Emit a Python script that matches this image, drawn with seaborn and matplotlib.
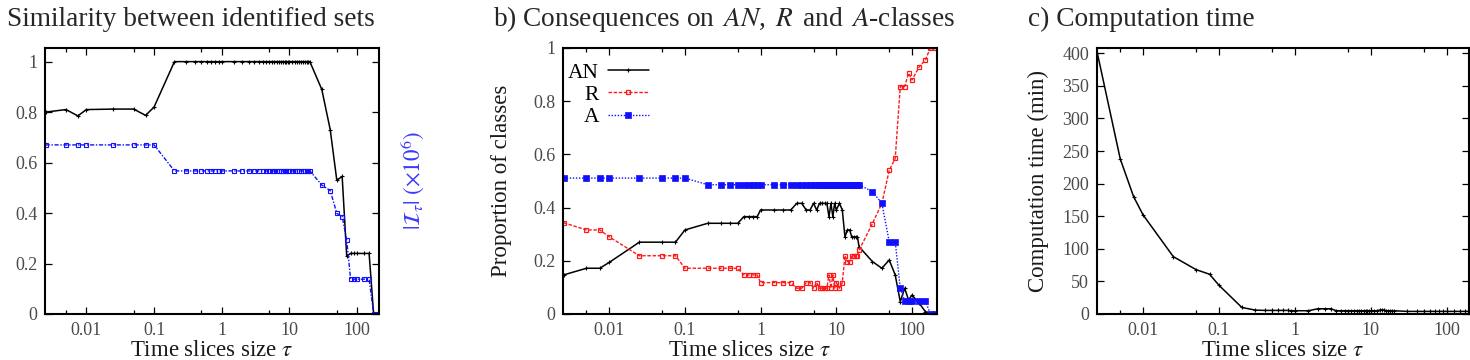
import matplotlib
matplotlib.use("Agg")
import matplotlib.pyplot as plt
import seaborn as sns
from matplotlib.ticker import LogLocator, NullFormatter

# ---------------- data ----------------
tau = [0.0025, 0.005, 0.0075, 0.01, 0.025, 0.05, 0.075, 0.1,
       0.2, 0.3, 0.4, 0.5, 0.6, 0.7, 0.8, 0.9,
       1, 1.5, 2, 2.5, 3, 3.5, 4, 4.5, 5, 5.5, 6, 6.5, 7, 7.5, 8, 8.5, 9, 9.5, 10,
       11, 12, 13, 14, 15, 16, 17, 18, 19, 20,
       30, 40, 50, 60, 70, 80, 90, 100, 125, 150, 175, 200]

similarity = [0.80, 0.81, 0.785, 0.81, 0.812, 0.812, 0.787, 0.82,
              1.0, 1.0, 1.0, 1.0, 1.0, 1.0, 1.0, 1.0,
              1.0, 1.0, 1.0, 1.0, 1.0, 1.0, 1.0, 1.0, 1.0, 1.0, 1.0, 1.0, 1.0, 1.0, 1.0, 1.0, 1.0, 1.0, 1.0,
              1.0, 1.0, 1.0, 1.0, 1.0, 1.0, 1.0, 1.0, 1.0, 1.0,
              0.89, 0.73, 0.53, 0.545, 0.23, 0.24, 0.24, 0.24, 0.24, 0.24, 0.0, 0.0]

identified = [0.67, 0.67, 0.67, 0.67, 0.67, 0.67, 0.67, 0.67,
              0.567, 0.567, 0.567, 0.567, 0.567, 0.567, 0.567, 0.567,
              0.567, 0.567, 0.567, 0.567, 0.567, 0.567, 0.567, 0.567, 0.567, 0.567, 0.567, 0.567, 0.567, 0.567,
              0.567, 0.567, 0.567, 0.567, 0.567,
              0.567, 0.567, 0.567, 0.567, 0.567, 0.567, 0.567, 0.567, 0.567, 0.567,
              0.511, 0.489, 0.399, 0.386, 0.293, 0.138, 0.138, 0.138, 0.138, 0.138, 0.0, 0.0]

an_prop = [0.147, 0.172, 0.172, 0.194, 0.27, 0.27, 0.27, 0.316,
           0.341, 0.341, 0.341, 0.341, 0.366, 0.366, 0.366, 0.366,
           0.391, 0.391, 0.391, 0.391, 0.416, 0.416, 0.391, 0.391, 0.416, 0.391, 0.416, 0.416, 0.416, 0.416,
           0.366, 0.416, 0.366, 0.416, 0.391,
           0.416, 0.391, 0.29, 0.316, 0.316, 0.29, 0.29, 0.29, 0.29, 0.253,
           0.197, 0.172, 0.203, 0.147, 0.046, 0.097, 0.053, 0.071, 0.04, 0.009, 0.0, 0.0]

r_prop = [0.343, 0.316, 0.316, 0.29, 0.219, 0.219, 0.219, 0.172,
          0.172, 0.172, 0.172, 0.172, 0.147, 0.147, 0.147, 0.147,
          0.118, 0.118, 0.118, 0.118, 0.097, 0.097, 0.118, 0.118, 0.097, 0.118, 0.097, 0.097, 0.097, 0.097,
          0.147, 0.097, 0.147, 0.097, 0.118,
          0.097, 0.118, 0.219, 0.197, 0.197, 0.219, 0.219, 0.219, 0.219, 0.24,
          0.34, 0.416, 0.54, 0.585, 0.855, 0.855, 0.905, 0.88, 0.93, 0.955, 1.0, 1.0]

a_prop = [0.511, 0.511, 0.511, 0.511, 0.511, 0.511, 0.511, 0.511,
          0.486, 0.486, 0.486, 0.486, 0.486, 0.486, 0.486, 0.486,
          0.486, 0.486, 0.486, 0.486, 0.486, 0.486, 0.486, 0.486, 0.486, 0.486, 0.486, 0.486, 0.486, 0.486,
          0.486, 0.486, 0.486, 0.486, 0.486,
          0.486, 0.486, 0.486, 0.486, 0.486, 0.486, 0.486, 0.486, 0.486, 0.486,
          0.46, 0.416, 0.272, 0.272, 0.097, 0.05, 0.05, 0.05, 0.05, 0.05, 0.0, 0.0]

comp_time = [400, 238, 180, 152, 88, 68, 61, 44,
             10, 6, 5.5, 5.5, 5.5, 5.5, 5.5, 5,
             5, 5, 8, 8, 8, 5, 5, 5, 5, 5, 5, 5, 5, 5, 5, 5, 5, 5, 5,
             5, 5, 6, 6.5, 6, 5, 5, 5, 5, 5,
             4, 4, 4, 4, 4, 4, 4, 4, 4, 4, 4, 4]

xtick_vals = [0.01, 0.1, 1, 10, 100]
xtick_labels = ["0.01", "0.1", "1", "10", "100"]
prop_ticks = [0, 0.2, 0.4, 0.6, 0.8, 1.0]
prop_tick_labels = ["0", "0.2", "0.4", "0.6", "0.8", "1"]
time_ticks = [0, 50, 100, 150, 200, 250, 300, 350, 400]

# ---------------- style ----------------
sns.set_theme(style="ticks")
plt.rcParams.update({
    "font.family": ["Liberation Serif", "DejaVu Serif"],
    "mathtext.fontset": "stix",
    "axes.edgecolor": "black",
    "axes.facecolor": "white",
    "figure.facecolor": "white",
})

W, H = 1470.0, 360.0
fig = plt.figure(figsize=(14.7, 3.6), dpi=100)


def rect(x0, x1, y0=48.0, y1=314.0):
    return [x0 / W, 1 - y1 / H, (x1 - x0) / W, (y1 - y0) / H]


axA = fig.add_axes(rect(45, 379))
axB = fig.add_axes(rect(563, 936.7))
axC = fig.add_axes(rect(1096.7, 1469))

TICKCOL = "#4a4a4a"
LABCOL = "#1a1a1a"
LABSIZE = 16.5


def style(ax, xmax):
    ax.set_xscale("log")
    ax.set_xlim(0.00245, xmax)
    ax.set_xticks(xtick_vals)
    ax.set_xticklabels(xtick_labels)
    ax.xaxis.set_minor_locator(LogLocator(base=10, subs=[5.0]))
    ax.xaxis.set_minor_formatter(NullFormatter())
    ax.tick_params(which="both", direction="in", top=True, right=True,
                   labelsize=13, labelcolor=TICKCOL, color="black", width=0.9)
    ax.tick_params(which="major", length=5, pad=5.5)
    ax.tick_params(which="minor", length=3)
    for s in ax.spines.values():
        s.set_visible(True)
        s.set_linewidth(1.5)
        s.set_color("black")
    ax.set_xlabel(r"Time slices size $\tau$", fontsize=LABSIZE, color=LABCOL, labelpad=1)


# ---------------- panel a ----------------
sns.lineplot(x=tau, y=similarity, ax=axA, color="black", linewidth=1.1,
             marker="+", markersize=3.5, mew=0.8, mec="black")
sns.lineplot(x=tau, y=identified, ax=axA, color="#1010ff", linewidth=1.0,
             linestyle=(0, (3, 1.2, 1, 1.2)),
             marker="s", markersize=2.8, mew=0.8, mec="#1010ff", mfc="none")
style(axA, 210)
axA.set_ylim(0, 1.054)
axA.set_yticks(prop_ticks)
axA.set_yticklabels(prop_tick_labels)
axA.text((413 - 45) / 334, 0.5, r"$|\mathcal{I}_\tau|\ (\times 10^6)$",
         transform=axA.transAxes, rotation=90, ha="center", va="center",
         fontsize=LABSIZE, color="#3a3aff")

# ---------------- panel b ----------------
sns.lineplot(x=tau, y=an_prop, ax=axB, color="black", linewidth=1.1,
             marker="+", markersize=3.5, mew=0.8, mec="black", label="AN")
sns.lineplot(x=tau, y=r_prop, ax=axB, color="#ff1a1a", linewidth=1.0,
             linestyle=(0, (2.5, 1.2)),
             marker="s", markersize=3.2, mew=0.9, mec="#ff1a1a", mfc="none", label="R")
sns.lineplot(x=tau, y=a_prop, ax=axB, color="#1010ff", linewidth=1.0,
             linestyle=(0, (1, 1.2)),
             marker="s", markersize=3.8, mew=0.5, mec="#1010ff", mfc="#1010ff", label="A")
style(axB, 212)
axB.set_ylim(0, 1)
axB.set_yticks(prop_ticks)
axB.set_yticklabels(prop_tick_labels)
axB.set_ylabel("Proportion of classes", fontsize=LABSIZE, color=LABCOL, va="center")
axB.yaxis.set_label_coords((501.7 - 563) / 373.7, 0.5)
leg = axB.legend(loc="upper left", bbox_to_anchor=(0.014, 0.945), frameon=False,
                 markerfirst=False, fontsize=15.5, handlelength=1.9,
                 handletextpad=0.4, labelspacing=0.1, borderaxespad=0,
                 borderpad=0, numpoints=1)
for t in leg.get_texts():
    t.set_color("black")

# ---------------- panel c ----------------
sns.lineplot(x=tau, y=comp_time, ax=axC, color="black", linewidth=1.1,
             marker="+", markersize=3.5, mew=0.8, mec="black")
style(axC, 196)
axC.set_ylim(0, 408)
axC.set_yticks(time_ticks)
axC.set_yticklabels([str(v) for v in time_ticks])
axC.set_ylabel("Computation time (min)", fontsize=LABSIZE, color=LABCOL, va="center")
axC.yaxis.set_label_coords((1038 - 1096.7) / 372.3, 0.5)

# ---------------- titles ----------------
ty = 1 - 26.5 / H
TSIZE = 19.7
fig.text(7 / W, ty, "Similarity between identified sets", fontsize=TSIZE, va="baseline", ha="left")
fig.text(493 / W, ty, r"b) Consequences on $\,AN$, $\,R\,$ and $\,A$-classes", fontsize=TSIZE,
         va="baseline", ha="left")
fig.text(1028 / W, ty, "c) Computation time", fontsize=TSIZE, va="baseline", ha="left")

fig.savefig("out.png", dpi=100)
